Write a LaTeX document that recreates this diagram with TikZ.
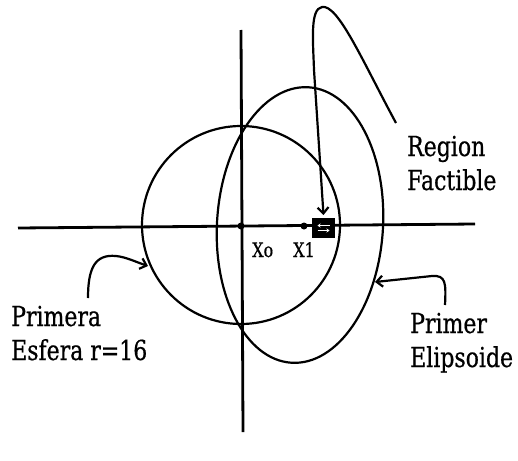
\documentclass[tikz,border=0pt]{standalone}
\usepackage{fontspec}
\newfontfamily\slabfont[FakeStretch=0.8,FakeBold=0.6]{DejaVu Serif}
\usetikzlibrary{arrows.meta}
\tikzset{
  axis/.style={line width=2.8pt},
  curve/.style={line width=2.2pt},
  pointer/.style={line width=2.2pt,-{Straight Barb[length=6pt,width=11pt,line width=2.2pt]}},
  lbl/.style={anchor=base west,inner sep=0pt,align=left,font=\slabfont\fontsize{27.5}{34}\selectfont},
  lblsmall/.style={anchor=base west,inner sep=0pt,font=\slabfont\fontsize{20}{22}\selectfont},
  point/.style={circle,fill,inner sep=0pt,minimum size=7pt}
}
\begin{document}
\begin{tikzpicture}[x=1pt,y=-1pt]
  \useasboundingbox (0,0) rectangle (518,460);
  % ejes
  \draw[axis] (18,228) -- (475,224);
  \draw[axis] (241,30) -- (243,432);
  % esfera y elipsoide
  \coordinate (ctr) at (241,225);
  \draw[curve] (ctr) circle[radius=99];
  \draw[curve,rotate around={-3.5:(300,225)}] (300,225) ellipse[x radius=83,y radius=138];
  % puntos
  \node[point] (xo) at (241,226) {};
  \node[point] (xi) at (304,226) {};
  \node[lblsmall] (xolbl) at (252,257) {Xo};
  \node[lblsmall] (xilbl) at (293,257) {X1};
  % region factible
  \node[draw,fill=black,line width=1pt,minimum width=22pt,minimum height=19pt,inner sep=0pt] (region) at (323.5,228) {};
  \draw[white,line width=1.2pt,-{Stealth[length=3pt,width=4pt]}] ([xshift=6pt,yshift=2.5pt]region.center) -- ([xshift=-6pt,yshift=2.5pt]region.center);
  \draw[white,line width=1.2pt,-{Stealth[length=3pt,width=4pt]}] ([xshift=-6pt,yshift=-2.5pt]region.center) -- ([xshift=6pt,yshift=-2.5pt]region.center);
  % textos
  \node[lbl] (rlbl) at (407,190) {Region\\Factible};
  \node[lbl] (plbl) at (11,360) {Primera\\Esfera r=16};
  \node[lbl] (elbl) at (410,367) {Primer\\Elipsoide};
  % flechas
  \coordinate (rtail) at (396,123);
  \coordinate (ptail) at (88,298);
  \coordinate (ptip) at (148,266);
  \coordinate (etail) at (445,305);
  \coordinate (etip) at (375,282);
  \draw[pointer] (rtail) .. controls (362,60) and (338,4) .. (322,7)
    .. controls (310,9) and (313,40) .. (314,70) -- ([yshift=3pt]region.north);
  \draw[pointer] (ptail) .. controls (88,268) and (95,254) .. (116,256)
    .. controls (126,257) and (136,262) .. (ptip);
  \draw[pointer] (etail) .. controls (446,283) and (446,275) .. (432,276) -- (etip);
\end{tikzpicture}
\end{document}
